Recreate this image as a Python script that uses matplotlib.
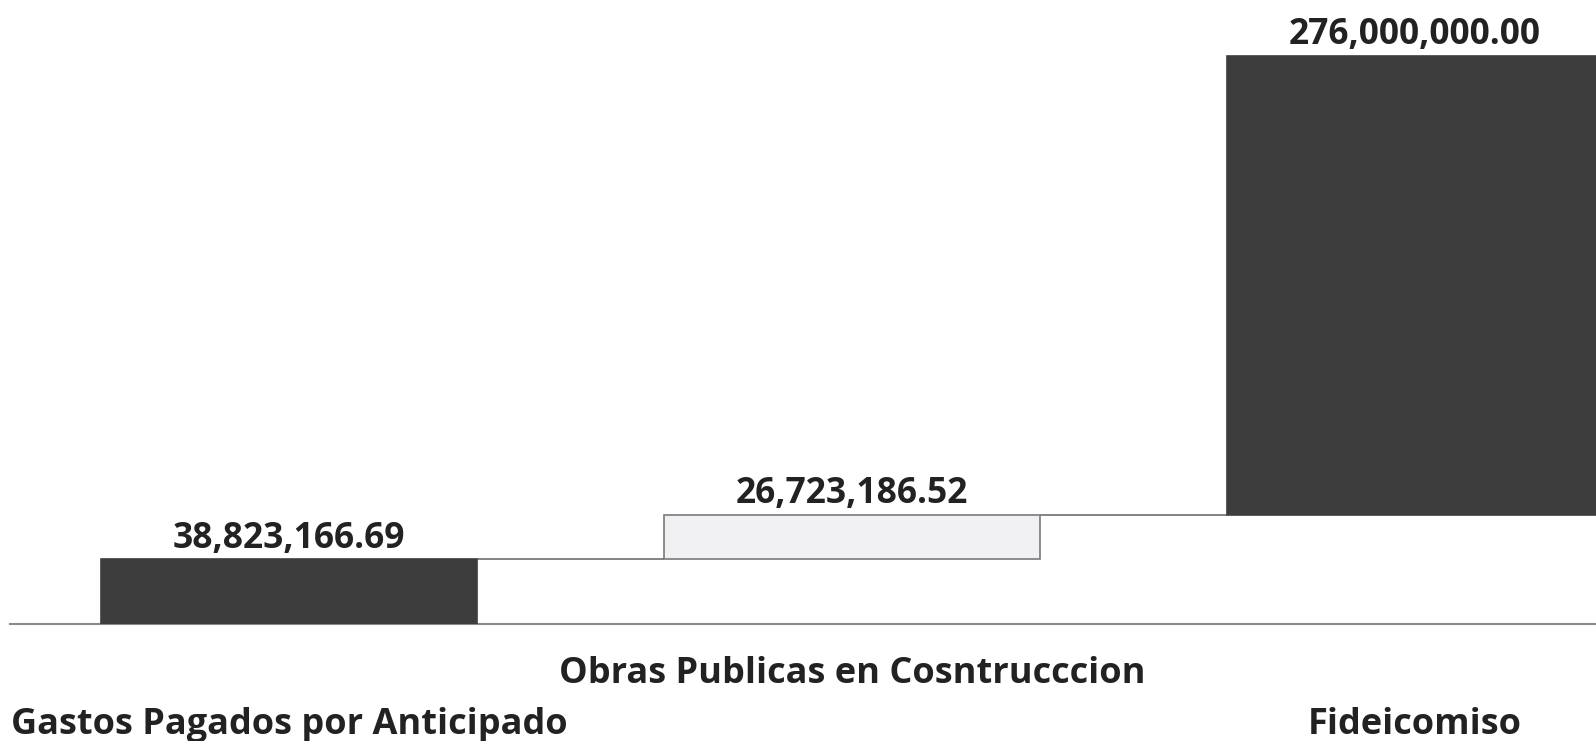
import numpy as np
import matplotlib.pyplot as plt

# Waterfall: each item starts where the previous one ended
categories = ['Gastos Pagados por Anticipado',
              'Obras Publicas en Cosntrucccion',
              'Fideicomiso']
values = [38823166.69, 26723186.52, 276000000.00]
bar_colors = ['#3d3d3d', '#f1f1f3', '#3d3d3d']
edge_colors = ['#3d3d3d', '#7a7a7a', '#3d3d3d']
label_pads = [60, 23, 60]   # staggered category labels (points)

plt.rcParams['font.family'] = ['Open Sans', 'DejaVu Sans']

vals = np.array(values)
bottoms = np.concatenate([[0], np.cumsum(vals)[:-1]])
tops = bottoms + vals
x = np.arange(len(categories))
width = 0.668

fig = plt.figure(figsize=(15.96, 7.41), dpi=100)
ax = fig.add_axes([10 / 1596, 117 / 741, 1 - 10 / 1596, 624 / 741])

bars = ax.bar(x, vals, width=width, bottom=bottoms, color=bar_colors,
              edgecolor=edge_colors, linewidth=1.2, zorder=3)

labels = ['{:,.2f}'.format(v) for v in values]
ax.bar_label(bars, labels=labels, padding=2, fontsize=25.5,
             fontweight='bold', color='#222222')

# connector lines between consecutive bars
ax.hlines(tops[:-1], x[:-1] + width / 2, x[1:] - width / 2,
          color='#7a7a7a', linewidth=1.3, zorder=2)

ax.set_xlim(-(289 - 10) / 563, (1596 - 289) / 563)
ax.set_ylim(0, tops[-1] * 624 / (624 - 56))

ax.set_xticks(x)
ax.set_xticklabels(categories, fontsize=26, fontweight='bold',
                   color='#222222')
ax.tick_params(axis='x', length=0)
for tick, pad in zip(ax.xaxis.get_major_ticks(), label_pads):
    tick.set_pad(pad)
ax.set_yticks([])

for side in ['top', 'right', 'left']:
    ax.spines[side].set_visible(False)
ax.spines['bottom'].set_color('#8a8a8a')
ax.spines['bottom'].set_linewidth(1.5)
ax.patch.set_alpha(0)

fig.savefig('out.png', dpi=100)
